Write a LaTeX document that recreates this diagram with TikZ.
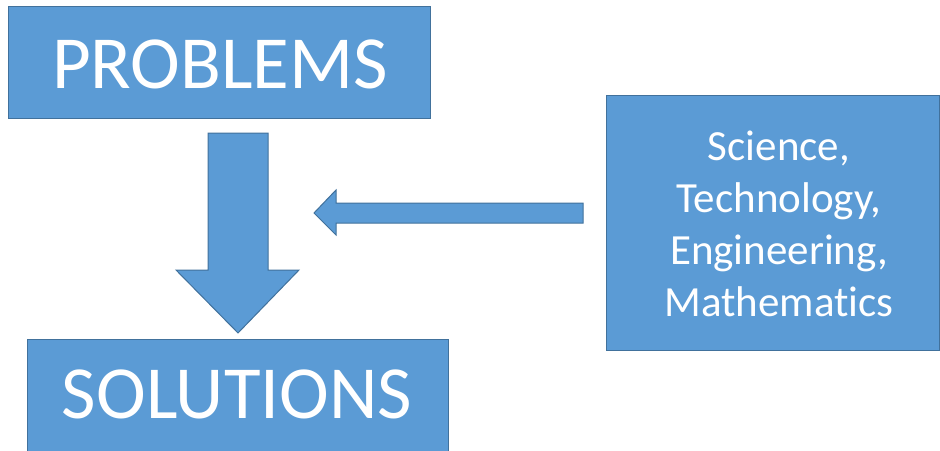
\documentclass[tikz,border=0pt]{standalone}
\usepackage{fontspec}
\setmainfont{Carlito}[Ligatures=NoCommon]
\definecolor{boxfill}{HTML}{5B9BD5}
\definecolor{boxline}{HTML}{41719C}
\tikzset{
  blockbox/.style={fill=boxfill, draw=boxline, line width=1pt},
  blockarrow/.style={fill=boxfill, draw=boxline, line width=1pt, line join=miter},
  boxtext/.style={text=white, align=center, inner sep=0pt}
}
\begin{document}
\begin{tikzpicture}[x=1pt,y=-1pt]
\useasboundingbox (0,0) rectangle (940,450);
\clip (0,0) rectangle (940,450);
% boxes
\draw[blockbox] (8,6) rectangle (430,118);
\node[boxtext, font=\fontsize{75}{90}\selectfont] (problems) at (220,64) {PROBLEMS};
\draw[blockbox] (27,339) rectangle (448,460);
\node[boxtext, font=\fontsize{75}{90}\selectfont] (solutions) at (237,394) {SOLUTIONS};
\draw[blockbox] (606,95) rectangle (939,350);
\node[boxtext, font=\fontsize{43}{52}\selectfont] (stem) at (779,224) {Science,\\Technology,\\Engineering,\\Mathematics};
% down block arrow
\draw[blockarrow] (208,133) -- (268,133) -- (268,270) -- (299,270) -- (238,333) -- (176,270) -- (208,270) -- cycle;
% left block arrow
\draw[blockarrow] (583,203) -- (583,223) -- (336,223) -- (336,235) -- (314,213) -- (336,190) -- (336,203) -- cycle;
\end{tikzpicture}
\end{document}
